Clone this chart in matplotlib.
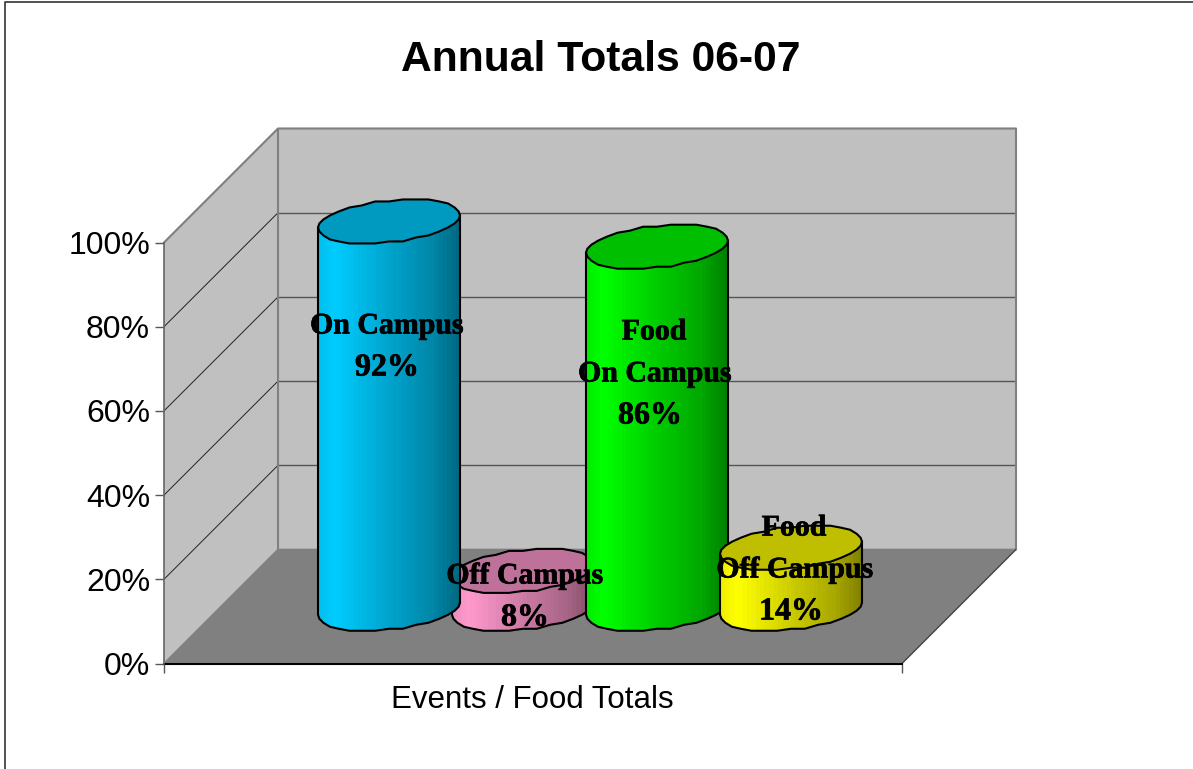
import numpy as np
import matplotlib
matplotlib.use('Agg')
import matplotlib.pyplot as plt
import matplotlib.patheffects as pe
from matplotlib.lines import Line2D
from matplotlib.ticker import PercentFormatter

W, H = 1193, 769

categories = ['On Campus', 'Off Campus', 'Food On Campus', 'Food Off Campus']
heights = [92, 9, 86, 14.5]
label_lines = [['On Campus', '92%'], ['Off Campus', '8%'],
               ['Food', 'On Campus', '86%'], ['Food', 'Off Campus', '14%']]
centers = [389, 523, 657, 791]
side_colors = ['#00CCFF', '#FF99CC', '#00FF00', '#FFFF00']
top_colors = ['#0099BF', '#BF7299', '#00BF00', '#BFBF00']
draw_order = [1, 0, 2, 3]
yticks = [0, 20, 40, 60, 80, 100]

# pixel layout of the box, y axis runs in percent
px_per_pct = 4.21
left_px, right_px, bottom_px, top_px = 164, 1016, 663.5, 128
depth_x = 114
depth_y = depth_x / px_per_pct
base = 13.0

plt.rcParams['font.family'] = ['Liberation Sans']
fig = plt.figure(figsize=(W / 100, H / 100), dpi=100, facecolor='white')
ax = fig.add_axes([left_px / W, 1 - bottom_px / H, (right_px - left_px) / W, (bottom_px - top_px) / H])
ax.set_xlim(left_px, right_px)
ax.set_ylim(0, (bottom_px - top_px) / px_per_pct)
ax.patch.set_visible(False)

# walls and floor
fx0, fx1 = left_px, right_px - depth_x
bx0, bx1 = left_px + depth_x, right_px
ax.fill([fx0, fx0, bx0, bx0], [0, 100, 100 + depth_y, depth_y], color='#C0C0C0', lw=0)
ax.fill([bx0, bx1, bx1, bx0], [depth_y, depth_y, 100 + depth_y, 100 + depth_y], color='#C0C0C0', lw=0)
ax.fill([fx0, fx1, bx1, bx0], [0, 0, depth_y, depth_y], color='#808080', lw=0)
for v in yticks[1:-1]:
    ax.plot([fx0, bx0], [v, v + depth_y], color='#222222', lw=0.7)
    ax.plot([bx0, bx1], [v + depth_y, v + depth_y], color='#555555', lw=1)
ax.plot([fx0, bx0, bx1, bx1], [100, 100 + depth_y, 100 + depth_y, depth_y], color='#808080', lw=1.5, clip_on=False)
ax.plot([bx0, bx0], [depth_y, 100 + depth_y], color='#808080', lw=1.5)
ax.plot([fx0, bx0, bx1], [0, depth_y, depth_y], color='#808080', lw=1.2)
ax.plot([fx1, bx1], [0, depth_y], color='#444444', lw=1)
ax.plot([fx0, fx1], [0, 0], color='black', lw=1.5, clip_on=False)

# cylinders, outline is a bit coarse like the old metafile
A, B, C = 67.5, 22.0, 22.0
R = np.hypot(A, B)
phi = np.arctan2(B, A)
n = 32
t = phi + 2 * np.pi * np.arange(n + 1) / n
ex = A * np.cos(t) + B * np.sin(t)
ey = np.round(C * np.sin(t) / 2) * 2 / px_per_pct
arc_x = ex[n // 2:]
arc_y = ey[n // 2:]
shade_u = [0, 0.12, 0.5, 0.8, 1]
shade_f = [0.93, 1, 0.8, 0.66, 0.5]
zo = 5
for i in draw_order:
    cx, h = centers[i], heights[i]
    rgb = np.array(matplotlib.colors.to_rgb(side_colors[i]))
    edges = np.linspace(-R, R, 33)
    for k in range(len(edges) - 1):
        # each strip runs on under the next one so no gap shows
        sx = np.array([edges[k], min(edges[k + 1] + 1.5, R)])
        low = np.interp(sx, arc_x, arc_y)
        f = np.interp((k + 0.5) / 32, shade_u, shade_f)
        ax.fill_between(cx + sx, base + low, base + h + low, color=rgb * f, lw=0, zorder=zo, antialiased=False)
    ax.fill(cx + ex, base + h + ey, facecolor=top_colors[i], edgecolor='black', lw=1.5, zorder=zo + 1)
    ax.plot(np.r_[cx + arc_x[0], cx + arc_x, cx + arc_x[-1]],
            np.r_[base + h + arc_y[0], base + arc_y, base + h + arc_y[-1]],
            color='black', lw=1.5, zorder=zo + 1, solid_joinstyle='round')
    zo += 2

# data labels
label_x = [[387, 387], [525, 525], [654, 655, 650], [794, 795, 791]]
label_y = [[326, 368], [576, 618], [332, 374, 416], [528, 570, 612]]
for lines, xs, ys in zip(label_lines, label_x, label_y):
    for s, x, y in zip(lines, xs, ys):
        size = 23 if s.endswith('%') else 21.5
        ax.text(x, (bottom_px - y) / px_per_pct, s, family='Liberation Serif', weight='bold',
                fontsize=size, color='black', ha='center', va='center', zorder=30, clip_on=False,
                path_effects=[pe.withStroke(linewidth=0.5, foreground='black')])

# axes
for name in ['top', 'right', 'bottom']:
    ax.spines[name].set_visible(False)
ax.spines['left'].set_bounds(0, 100)
ax.spines['left'].set_color('#666666')
ax.spines['left'].set_linewidth(1.2)
ax.set_yticks(yticks)
ax.yaxis.set_major_formatter(PercentFormatter(100, decimals=0))
ax.tick_params(axis='y', length=6.5, width=1, color='#555555', pad=3.5, labelsize=23)
ax.set_xticks([fx0, fx1])
ax.set_xticklabels([])
ax.tick_params(axis='x', length=6.5, width=1, color='#555555')

fig.text(532 / W, 1 - 700 / H, 'Events / Food Totals', fontsize=22.5, ha='center', va='center')
fig.text(601 / W, 1 - 60 / H, 'Annual Totals 06-07', fontsize=30.7, weight='bold', ha='center', va='center')

# chart area border
fig.add_artist(Line2D([5.5 / W, 5.5 / W, 1], [0, 1 - 1.5 / H, 1 - 1.5 / H], color='#333333', lw=1.2))

fig.savefig('out.png', dpi=100)
